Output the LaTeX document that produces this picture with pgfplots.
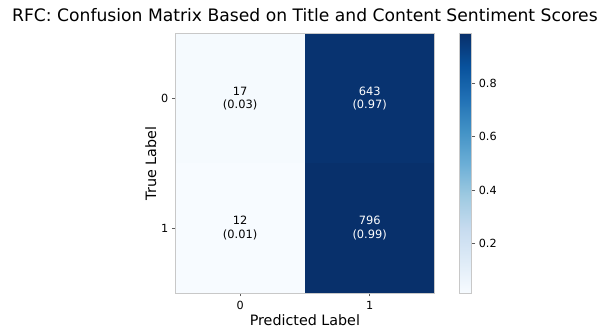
\documentclass[border=0pt]{standalone}
\usepackage{pgfplots}
\usepackage{pgfplotstable}
\usepackage{fontspec}
\setmainfont{DejaVu Sans}
\pgfplotsset{compat=1.18}
\pgfkeys{/pgf/number format/assume math mode=true}

% matplotlib "Blues"
\pgfplotsset{
  colormap={Blues}{
    rgb255=(247,251,255) rgb255=(222,235,247) rgb255=(198,219,239)
    rgb255=(158,202,225) rgb255=(107,174,214) rgb255=(66,146,198)
    rgb255=(33,113,181) rgb255=(8,81,156) rgb255=(8,48,107)}
}
\definecolor{framegray}{RGB}{200,200,200}
\definecolor{tickgray}{RGB}{90,90,90}

% confusion matrix: counts and row-normalised fractions
\pgfplotstableread{
x y count frac
0 0 17  0.0258
1 0 643 0.9742
0 1 12  0.0149
1 1 796 0.9851
}\cm

\begin{document}
\begin{tikzpicture}
\begin{axis}[
  name=ax,
  scale only axis,
  width=260bp, height=260bp,
  xmin=-0.5, xmax=1.5, ymin=-0.5, ymax=1.5,
  y dir=reverse,
  xtick={0,1}, ytick={0,1},
  xtick pos=bottom, ytick pos=left,
  tick align=outside,
  major tick length=3.5bp,
  tick style={tickgray, line width=0.6pt},
  axis line style={framegray, line width=0.8pt},
  axis on top,
  /pgf/number format/assume math mode=true,
  tick label style={font=\fontsize{11.3}{13}\selectfont, text=black},
  xticklabel style={yshift=-1bp},
  label style={font=\fontsize{14.4}{16}\selectfont},
  xlabel={Predicted Label},
  ylabel={True Label},
  xlabel style={yshift=2bp},
  ylabel style={yshift=-2bp},
  title={RFC: Confusion Matrix Based on Title and Content Sentiment Scores},
  title style={font=\fontsize{17.3}{20}\selectfont, yshift=3bp},
  colormap name=Blues,
  point meta min=0.0149, point meta max=0.9851,
  colorbar,
  colorbar style={
    width=12bp,
    at={(parent axis.north east)}, anchor=north west,
    xshift=17bp,
    ytick={0.2,0.4,0.6,0.8},
    ytick pos=right,
    yticklabel style={font=\fontsize{11.3}{13}\selectfont,
      /pgf/number format/assume math mode=true,
      /pgf/number format/fixed, /pgf/number format/precision=1,
      /pgf/number format/zerofill},
    axis line style={framegray, line width=0.8pt},
    tick style={tickgray, line width=0.6pt},
    major tick length=3.5bp,
    tick align=outside,
  },
  nodes near coords style={font=\fontsize{11.5}{13.5}\selectfont, align=center, anchor=center},
]
\addplot[matrix plot*, mesh/cols=2, mesh/rows=2, point meta=explicit]
  table[x=x, y=y, meta=frac] {\cm};

% annotations on the light column
\addplot[only marks, mark=none, point meta=explicit,
  x filter/.expression={x==0 ? x : nan}, unbounded coords=discard,
  visualization depends on={\thisrow{count}\as\cnt},
  nodes near coords={\pgfmathprintnumber{\cnt}\\(\pgfmathprintnumber[fixed,precision=2,zerofill]{\pgfplotspointmeta})},
  nodes near coords style={text=black}]
  table[x=x, y=y, meta=frac] {\cm};

% annotations on the dark column
\addplot[only marks, mark=none, point meta=explicit,
  x filter/.expression={x==1 ? x : nan}, unbounded coords=discard,
  visualization depends on={\thisrow{count}\as\cnt},
  nodes near coords={\pgfmathprintnumber{\cnt}\\(\pgfmathprintnumber[fixed,precision=2,zerofill]{\pgfplotspointmeta})},
  nodes near coords style={text=white}]
  table[x=x, y=y, meta=frac] {\cm};
\end{axis}
\path[use as bounding box]
  ([shift={(-176bp,-35bp)}]ax.south west) rectangle
  ([shift={(425bp,294bp)}]ax.south west);
\end{tikzpicture}
\end{document}
